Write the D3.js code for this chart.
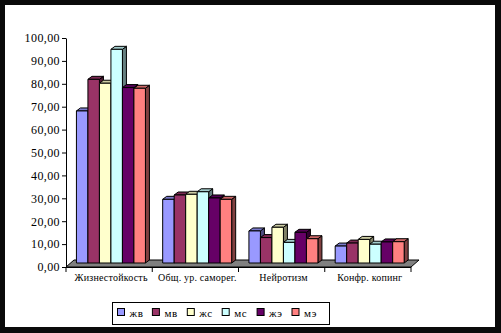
<!DOCTYPE html>
<html><head><meta charset="utf-8">
<script src="https://cdn.jsdelivr.net/npm/d3@7/dist/d3.min.js"></script>
<style>body{margin:0;background:#000}svg{display:block}</style>
</head><body>
<script>
const categories = ["Жизнестойкость", "Общ. ур. саморег.", "Нейротизм", "Конфр. копинг"];
const seriesNames = ["жв", "мв", "жс", "мс", "жэ", "мэ"];
const colors = ["#9999FF", "#993366", "#FFFFCC", "#CCFFFF", "#660066", "#FF8080"];
const zhv = [66.4, 27.8, 14.0, 7.4];
const mv  = [80.2, 29.7, 11.1, 8.7];
const zhs = [78.5, 30.0, 15.6, 10.3];
const ms  = [93.3, 31.1, 9.0, 8.2];
const zhe = [76.6, 28.4, 13.4, 9.2];
const me  = [76.3, 27.8, 10.6, 9.3];
const series = [zhv, mv, zhs, ms, zhe, me];
const yTicks = [0,10,20,30,40,50,60,70,80,90,100];

const W = 501, H = 333;
const svg = d3.select("body").append("svg").attr("width", W).attr("height", H);
svg.append("rect").attr("x",0).attr("y",0).attr("width",W).attr("height",H).attr("fill","#0a0a0a");
svg.append("rect").attr("x",5).attr("y",5).attr("width",490).attr("height",322).attr("fill","#fff");

const x0 = 66, x1 = 411, yBot = 267, yTop = 38;
const y = d3.scaleLinear().domain([0,100]).range([yBot, yTop]);
const xb = d3.scaleBand().domain(categories).range([x0, x1]).paddingInner(0.2).paddingOuter(0.1);
const xs = d3.scaleBand().domain(seriesNames).range([0, xb.bandwidth()]);

// floor
const fdx = 8, fdy = -7;
svg.append("path")
  .attr("d", `M${x0},${yBot} L${x1},${yBot} L${x1+fdx},${yBot+fdy} L${x0+fdx},${yBot+fdy} Z`)
  .attr("fill", "#808080").attr("stroke", "#000").attr("stroke-width", 1);

// bars
const bdx = 4, bdy = -3, px = 1.8, py = -4;
const shade = (c, k) => { const r = d3.rgb(c); return d3.rgb(r.r*k, r.g*k, r.b*k).toString(); };
const gBars = svg.append("g").attr("stroke", "#000").attr("stroke-width", 1).attr("stroke-linejoin","round");
categories.forEach((cat, ci) => {
  seriesNames.forEach((s, si) => {
    const v = series[si][ci];
    const bx = xb(cat) + xs(s) + px;
    const bw = xs.bandwidth();
    const top = y(v) + py, bot = y(0) + py;
    const c = colors[si];
    gBars.append("path")
      .attr("d", `M${bx+bw},${top} L${bx+bw+bdx},${top+bdy} L${bx+bw+bdx},${bot+bdy} L${bx+bw},${bot} Z`)
      .attr("fill", shade(c, 0.5));
    gBars.append("path")
      .attr("d", `M${bx},${top} L${bx+bdx},${top+bdy} L${bx+bw+bdx},${top+bdy} L${bx+bw},${top} Z`)
      .attr("fill", shade(c, 0.8));
    gBars.append("rect").attr("x", bx).attr("y", top).attr("width", bw).attr("height", bot-top)
      .attr("fill", c);
  });
});

// y axis
const yAxis = d3.axisLeft(y).tickValues(yTicks).tickSize(4).tickSizeOuter(0)
  .tickFormat(d => d3.format(".2f")(d).replace(".", ","));
const gy = svg.append("g").attr("transform", `translate(${x0},0)`).call(yAxis);
gy.select(".domain").attr("stroke", "#000");
gy.selectAll(".tick line").attr("stroke", "#000");
gy.selectAll("text").attr("font-family", "Liberation Serif, Times New Roman, serif")
  .attr("font-size", 12).attr("fill", "#000").attr("x", -6).attr("letter-spacing", 0.4);

// x axis
svg.append("line").attr("x1", x0).attr("x2", x1).attr("y1", yBot+0.5).attr("y2", yBot+0.5).attr("stroke", "#000");
const step = (x1 - x0) / categories.length;
d3.range(categories.length + 1).forEach(i => {
  svg.append("line").attr("x1", x0 + i*step).attr("x2", x0 + i*step)
    .attr("y1", yBot).attr("y2", yBot + 5).attr("stroke", "#000");
});
categories.forEach((cat, i) => {
  svg.append("text").attr("x", x0 + (i+0.5)*step + 2).attr("y", yBot + 14)
    .attr("text-anchor", "middle").attr("font-family", "Liberation Serif, Times New Roman, serif")
    .attr("font-size", 10).attr("fill", "#000").attr("letter-spacing", 0.2).text(cat);
});

// legend
const lg = svg.append("g");
lg.append("rect").attr("x", 112.5).attr("y", 302.5).attr("width", 217).attr("height", 22)
  .attr("fill", "#fff").attr("stroke", "#000");
seriesNames.forEach((s, i) => {
  const lx = 117.5 + i*34.9;
  lg.append("rect").attr("x", lx).attr("y", 308.5).attr("width", 7).attr("height", 7)
    .attr("fill", colors[i]).attr("stroke", "#000");
  lg.append("text").attr("x", lx + 12).attr("y", 317).attr("font-family", "Liberation Serif, Times New Roman, serif")
    .attr("font-size", 11).attr("fill", "#000").attr("letter-spacing", 0.6).text(s);
});
</script>
</body></html>
